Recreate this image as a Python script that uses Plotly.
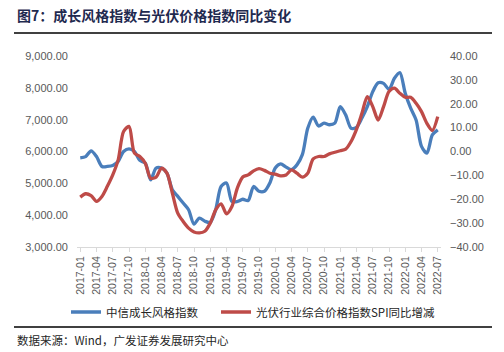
import plotly.graph_objects as go

months = [f"{y}-{m:02d}" for y in range(2017, 2023) for m in range(1, 13)][:67]

growth_index = [5800, 5840, 6020, 5840, 5530, 5530, 5560, 5690, 6000, 6085, 6000, 5720,
                5635, 5110, 5480, 5480, 5320, 4800, 4590, 4380, 4170, 3720, 3910, 3810,
                3775, 4170, 4900, 5010, 4430, 4430, 4500, 4460, 4900, 4750, 4750, 5010,
                5480, 5610, 5510, 5430, 5580, 5900, 6730, 7080, 6800, 6890, 6840, 6890,
                7410, 7150, 6730, 6760, 7050, 7410, 7880, 8160, 8140, 7950, 8300, 8480,
                7830, 7360, 6990, 6160, 5950, 6520, 6680]

spi_yoy = [-19.1, -17.7, -18.5, -20.9, -18.8, -14.6, -9.8, -3.5, 8.4, 10.5, -0.7, -2.1,
           -4.9, -11.2, -10.7, -7.0, -9.1, -17.4, -25.8, -29.3, -32.1, -33.7, -34.1, -33.4,
           -30.0, -24.4, -21.9, -26.1, -23.0, -15.3, -10.7, -9.8, -8.1, -7.2, -7.9, -9.1,
           -9.5, -10.2, -9.8, -7.7, -9.1, -10.7, -9.1, -3.1, -2.1, -2.1, -1.0, -0.3,
           0.3, 1.0, 4.2, 9.3, 16.0, 23.0, 18.8, 13.2, 18.8, 25.1, 26.5, 24.4,
           22.7, 22.7, 20.2, 16.7, 11.8, 8.8, 14.6]

name_growth = "中信成长风格指数"
name_spi = "光伏行业综合价格指数SPI同比增减"
title_text = "图7：成长风格指数与光伏价格指数同比变化"
source_text = "数据来源：Wind，广发证券发展研究中心"

W, H = 504, 352
L, R, T, B = 77, 441, 56, 247

def px_x(p):
    return (p - L) / (R - L)

def px_y(p):
    return (B - p) / (B - T)

fig = go.Figure()
fig.add_trace(go.Scatter(x=months, y=growth_index, name=name_growth, mode="lines",
                         legend="legend",
                         line=dict(color="#4A7EBB", width=3.3, shape="spline", smoothing=0.8)))
fig.add_trace(go.Scatter(x=months, y=spi_yoy, name=name_spi, mode="lines", yaxis="y2",
                         legend="legend2",
                         line=dict(color="#BE4B48", width=3.3, shape="spline", smoothing=0.8)))

tick_font = dict(family="Liberation Sans, Arial", size=11, color="#595959")
leg_font = dict(family="Noto Sans CJK SC", size=11.5, color="#262626")

fig.update_layout(
    width=W, height=H,
    margin=dict(l=L, r=W - R, t=T, b=H - B),
    paper_bgcolor="white", plot_bgcolor="white",
    showlegend=True,
    legend=dict(orientation="h", x=px_x(66), y=px_y(312), xanchor="left", yanchor="middle",
                font=leg_font, itemwidth=30, bgcolor="rgba(0,0,0,0)"),
    legend2=dict(orientation="h", x=px_x(216), y=px_y(312), xanchor="left", yanchor="middle",
                 font=leg_font, itemwidth=30, bgcolor="rgba(0,0,0,0)"),
    xaxis=dict(type="category", range=[-0.6, 66.6],
               tickvals=months[::3], ticktext=months[::3], tickangle=-90,
               tickfont=dict(family="Liberation Sans, Arial", size=10.5, color="#595959"),
               showline=True, linecolor="#D9D9D9", linewidth=1,
               ticks="outside", ticklen=4, tickcolor="#D9D9D9",
               showgrid=False, zeroline=False),
    yaxis=dict(range=[3000, 9000], dtick=1000, tickformat=",.2f", tickfont=tick_font,
               showgrid=False, zeroline=False, showline=False, ticks="",
               ticklabelstandoff=8),
    yaxis2=dict(range=[-40, 40], dtick=10, tickformat=".2f", tickfont=tick_font,
                overlaying="y", side="right", showgrid=False, zeroline=False,
                showline=False, ticks="", ticklabelstandoff=8),
    annotations=[
        dict(text="<b>" + title_text + "</b>", xref="paper", yref="paper",
             x=px_x(15), y=px_y(15), xanchor="left", yanchor="middle", showarrow=False,
             font=dict(family="Noto Sans CJK SC", size=14, color="#1F2A4F")),
        dict(text=source_text, xref="paper", yref="paper",
             x=px_x(15), y=px_y(340), xanchor="left", yanchor="middle", showarrow=False,
             font=dict(family="Noto Sans CJK SC", size=11.5, color="#262626")),
    ],
    shapes=[
        dict(type="line", xref="paper", yref="paper", x0=px_x(14), x1=px_x(492),
             y0=px_y(33), y1=px_y(33), line=dict(color="#000000", width=1.5)),
        dict(type="line", xref="paper", yref="paper", x0=px_x(14), x1=px_x(492),
             y0=px_y(327), y1=px_y(327), line=dict(color="#000000", width=1.5)),
    ],
)

fig.write_html("out.html")
